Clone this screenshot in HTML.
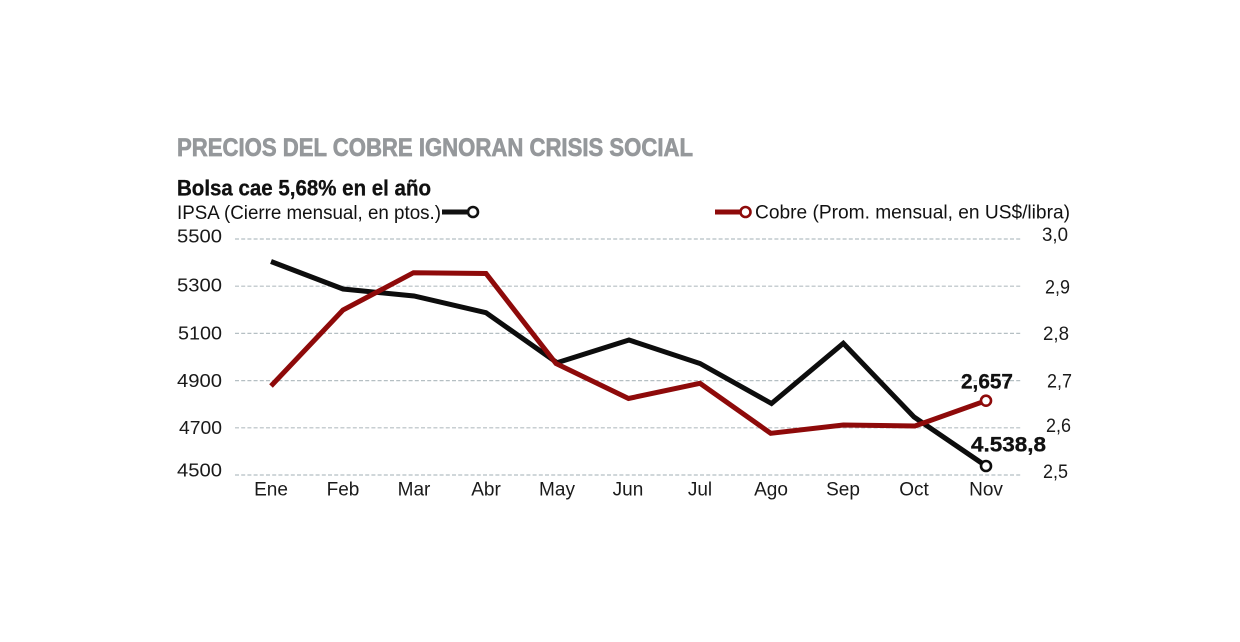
<!DOCTYPE html>
<html>
<head>
<meta charset="utf-8">
<style>
  html, body { margin: 0; padding: 0; background: #ffffff; }
  svg { display: block; }
  text { font-family: "Liberation Sans", "DejaVu Sans", sans-serif; }
</style>
</head>
<body>
<svg width="1240" height="642" viewBox="0 0 1240 642" xmlns="http://www.w3.org/2000/svg">
  <rect x="0" y="0" width="1240" height="642" fill="#ffffff"/>

  <!-- Title -->
  <text x="177" y="156" font-size="25" font-weight="bold" fill="#95989b" stroke="#95989b" stroke-width="0.7" textLength="516" lengthAdjust="spacingAndGlyphs">PRECIOS DEL COBRE IGNORAN CRISIS SOCIAL</text>
  <text x="177" y="195.5" font-size="22" font-weight="bold" fill="#111111" stroke="#111111" stroke-width="0.3" textLength="254" lengthAdjust="spacingAndGlyphs">Bolsa cae 5,68% en el año</text>

  <!-- Legends -->
  <text x="177" y="219" font-size="19" fill="#111111" textLength="264" lengthAdjust="spacingAndGlyphs">IPSA (Cierre mensual, en ptos.)</text>
  <line x1="442" y1="212" x2="467" y2="212" stroke="#111111" stroke-width="5"/>
  <circle cx="473" cy="212" r="5" fill="#ffffff" stroke="#111111" stroke-width="2.6"/>

  <line x1="715" y1="212" x2="740" y2="212" stroke="#8e0a0a" stroke-width="5"/>
  <circle cx="745.5" cy="212" r="5" fill="#ffffff" stroke="#8e0a0a" stroke-width="2.6"/>
  <text x="755" y="218.5" font-size="19" fill="#111111" textLength="315" lengthAdjust="spacingAndGlyphs">Cobre (Prom. mensual, en US$/libra)</text>

  <!-- Gridlines -->
  <g stroke="#b5bfc3" stroke-width="1.2" stroke-dasharray="4 2.2">
    <line x1="235" y1="239" x2="1022" y2="239"/>
    <line x1="235" y1="286.2" x2="1022" y2="286.2"/>
    <line x1="235" y1="333.4" x2="1022" y2="333.4"/>
    <line x1="235" y1="380.6" x2="1022" y2="380.6"/>
    <line x1="235" y1="427.8" x2="1022" y2="427.8"/>
    <line x1="235" y1="475" x2="1022" y2="475"/>
  </g>

  <!-- Left axis labels -->
  <g font-size="18.5" fill="#1a1a1a">
    <text x="177" y="242.5" textLength="45" lengthAdjust="spacingAndGlyphs">5500</text>
    <text x="177" y="291.5" textLength="45" lengthAdjust="spacingAndGlyphs">5300</text>
    <text x="178" y="339.5" textLength="44" lengthAdjust="spacingAndGlyphs">5100</text>
    <text x="177" y="387" textLength="45" lengthAdjust="spacingAndGlyphs">4900</text>
    <text x="179" y="434" textLength="43" lengthAdjust="spacingAndGlyphs">4700</text>
    <text x="177" y="476.5" textLength="45" lengthAdjust="spacingAndGlyphs">4500</text>
  </g>

  <!-- Right axis labels -->
  <g font-size="19" fill="#1a1a1a">
    <text x="1042" y="241" textLength="26" lengthAdjust="spacingAndGlyphs">3,0</text>
    <text x="1045" y="293.5" textLength="25" lengthAdjust="spacingAndGlyphs">2,9</text>
    <text x="1043" y="340" textLength="26" lengthAdjust="spacingAndGlyphs">2,8</text>
    <text x="1047" y="387.5" textLength="25" lengthAdjust="spacingAndGlyphs">2,7</text>
    <text x="1046" y="432" textLength="25" lengthAdjust="spacingAndGlyphs">2,6</text>
    <text x="1043" y="478" textLength="25" lengthAdjust="spacingAndGlyphs">2,5</text>
  </g>

  <!-- Month labels -->
  <g font-size="19" fill="#1a1a1a" text-anchor="middle">
    <text x="271" y="495.5">Ene</text>
    <text x="343" y="495.5">Feb</text>
    <text x="414" y="495.5">Mar</text>
    <text x="486" y="495.5">Abr</text>
    <text x="557" y="495.5">May</text>
    <text x="628" y="495.5">Jun</text>
    <text x="700" y="495.5">Jul</text>
    <text x="771" y="495.5">Ago</text>
    <text x="843" y="495.5">Sep</text>
    <text x="914" y="495.5">Oct</text>
    <text x="986" y="495.5">Nov</text>
  </g>

  <!-- IPSA series (black) -->
  <polyline fill="none" stroke="#0d0d0d" stroke-width="5" stroke-linejoin="miter" stroke-miterlimit="3"
    points="271,261.5 343,289 414,296 486,312.7 557,362.7 629,340 700,363.5 771.5,403.5 843.3,343.3 914,417 986,466"/>

  <!-- Cobre series (red) -->
  <polyline fill="none" stroke="#8e0a0a" stroke-width="5" stroke-linejoin="miter" stroke-miterlimit="3"
    points="271,386 343,310 413.5,272.7 486,273.5 556,363.5 628.5,398.5 700,383.3 770.7,433.3 843.3,425 915,426 986,400.7"/>

  <!-- End markers -->
  <circle cx="986" cy="466" r="5" fill="#ffffff" stroke="#0d0d0d" stroke-width="2.6"/>
  <circle cx="986" cy="400.7" r="5" fill="#ffffff" stroke="#8e0a0a" stroke-width="2.6"/>

  <!-- Value labels -->
  <text x="961" y="388.5" font-size="21" font-weight="bold" fill="#111111" stroke="#111111" stroke-width="0.3" textLength="52" lengthAdjust="spacingAndGlyphs">2,657</text>
  <text x="971" y="451.5" font-size="21" font-weight="bold" fill="#111111" stroke="#111111" stroke-width="0.3" textLength="75" lengthAdjust="spacingAndGlyphs">4.538,8</text>
</svg>
</body>
</html>
